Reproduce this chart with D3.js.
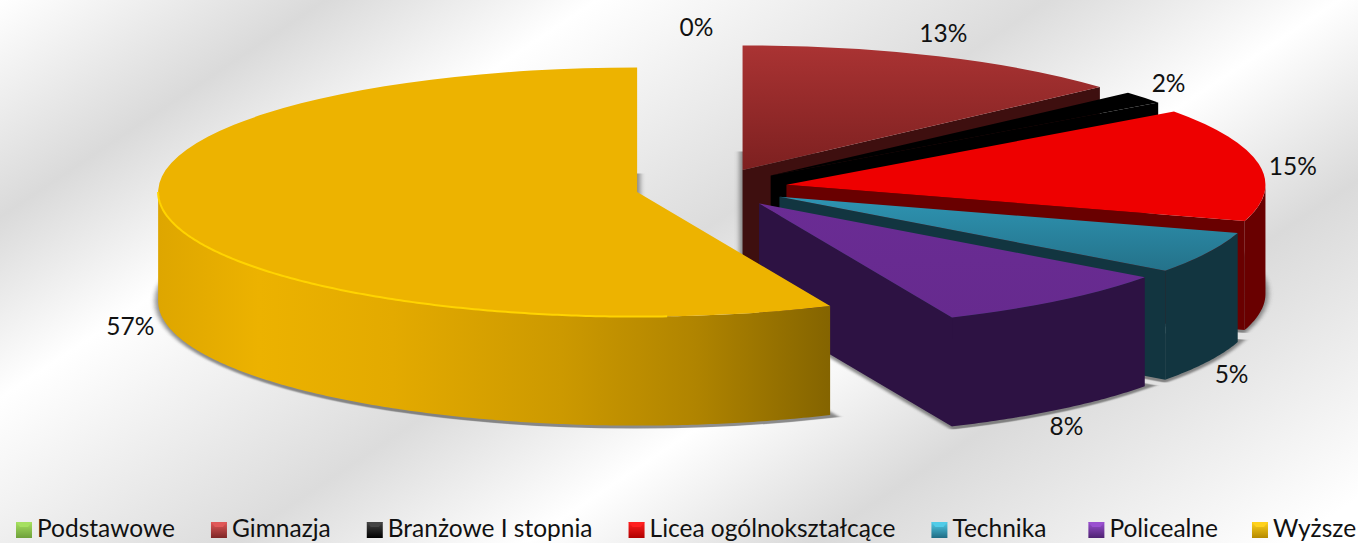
<!DOCTYPE html>
<html>
<head>
<meta charset="utf-8">
<script src="https://d3js.org/d3.v7.min.js"></script>
<style>
  html, body { margin: 0; padding: 0; background: #fff; overflow: hidden; }
  text { font-family: Lato, sans-serif; fill: #111; }
</style>
</head>
<body>
<script>
var categories = ["Podstawowe", "Gimnazja", "Branżowe I stopnia", "Licea ogólnokształcące", "Technika", "Policealne", "Wyższe"];
var shares = [0, 13.4, 1.6, 14.7, 5.4, 8.3, 56.6];
var labels = ["0%", "13%", "2%", "15%", "5%", "8%", "57%"];

var topColors = [["#92d050", "#92d050"], ["#aa3333", "#7d2020"], ["#000", "#000"], ["#ee0000", "#ee0000"], ["#2e94b2", "#24728a"], ["#6a2c94", "#662a8e"], ["#edb300", "#edb300"]];
var wallColors = ["#4a6a28", "#3e0f0f", "#000", "#690000", "#123540", "#2d1243", "#8a6800"];
var swatchColors = [["#a6e060", "#6ea03a"], ["#e05858", "#7d2525"], ["#444", "#000"], ["#ff2020", "#b00000"], ["#50cce8", "#1f6c84"], ["#9a50d0", "#4e2272"], ["#ffd21c", "#b58a00"]];
var labelNudge = [[-15, -16], [5, -22], [25, -13], [34, 3], [24, 13], [8, 17], [-38, 0]];
var legendGaps = [36, 36, 36, 36, 42, 34, 0];

var width = 1358, height = 543;
var cx = 711.5, cy = 188, rx = 479, tilt = 0.26, depth = 109, explode = 76;
var ry = rx * tilt;

var svg = d3.select("body").append("svg")
    .attr("width", width)
    .attr("height", height)
    .style("display", "block");
var defs = svg.append("defs");

// diagonal banded backdrop
var bg = defs.append("linearGradient").attr("id", "bg")
    .attr("gradientUnits", "userSpaceOnUse")
    .attr("x1", 0).attr("y1", 0).attr("x2", 668).attr("y2", 1002);
[[0, "#fff"], [.15, "#dadada"], [.275, "#fff"], [.483, "#dcdcdc"], [.617, "#fff"], [.75, "#dadada"], [.97, "#fff"], [1, "#fff"]].forEach(function(s) {
  bg.append("stop").attr("offset", s[0]).attr("stop-color", s[1]);
});
svg.append("rect").attr("width", width).attr("height", height).attr("fill", "url(#bg)");

defs.append("filter").attr("id", "blur")
    .attr("x", "-10%").attr("y", "-10%").attr("width", "120%").attr("height", "120%")
  .append("feGaussianBlur").attr("stdDeviation", 2.5);

categories.forEach(function(c, i) {
  var g = defs.append("linearGradient").attr("id", "top" + i).attr("x1", 0).attr("y1", 0).attr("x2", 0).attr("y2", 1);
  g.append("stop").attr("offset", 0).attr("stop-color", topColors[i][0]);
  g.append("stop").attr("offset", 1).attr("stop-color", topColors[i][1]);
  var s = defs.append("linearGradient").attr("id", "sw" + i).attr("x1", 0).attr("y1", 0).attr("x2", 0).attr("y2", 1);
  s.append("stop").attr("offset", 0).attr("stop-color", swatchColors[i][0]);
  s.append("stop").attr("offset", 1).attr("stop-color", swatchColors[i][1]);
});

var yellowWall = defs.append("linearGradient").attr("id", "wall6").attr("x1", 0).attr("y1", 0).attr("x2", 1).attr("y2", 0);
[[0, "#dea600"], [.15, "#ecb200"], [.35, "#e3aa00"], [.6, "#cc9900"], [.8, "#b08400"], [1, "#846400"]].forEach(function(s) {
  yellowWall.append("stop").attr("offset", s[0]).attr("stop-color", s[1]);
});

var pie = d3.pie().sort(null).value(function(d) { return d; });
var arcs = pie(shares);
var arc = d3.arc().innerRadius(0).outerRadius(rx);
var line = d3.line().x(function(d) { return d[0]; }).y(function(d) { return d[1]; });

function mid(d) { return (d.startAngle + d.endAngle) / 2; }
function apex(d) {
  return [cx + explode * Math.sin(mid(d)), cy - explode * tilt * Math.cos(mid(d))];
}
function rim(a) { return [rx * Math.sin(a), -ry * Math.cos(a)]; }

// outer wall, only the part turned to the viewer
function outerWall(d) {
  var a0 = Math.max(d.startAngle, Math.PI / 2), a1 = Math.min(d.endAngle, Math.PI * 1.5);
  if (a1 <= a0) return null;
  var steps = d3.range(a0, a1, 0.01).concat([a1]).map(rim);
  var lower = steps.map(function(p) { return [p[0], p[1] + depth]; }).reverse();
  return line(steps.concat(lower)) + "Z";
}

// radial wall along the closing edge of a slice
function edgeWall(d) {
  if (d.endAngle >= Math.PI) return null;
  var p = rim(d.endAngle);
  return line([[0, 0], p, [p[0], p[1] + depth], [0, depth]]) + "Z";
}

var visible = arcs.filter(function(d) { return d.value > 0; });

// soft shadow of the underside of each slice
svg.append("g").selectAll("path").data(visible).join("path")
    .attr("d", arc)
    .attr("transform", function(d) {
      var a = apex(d);
      return "translate(" + a[0] + "," + (a[1] + depth) + ") scale(1," + tilt + ")";
    })
    .attr("fill", "#444")
    .attr("stroke", "#444")
    .attr("stroke-width", 6)
    .attr("vector-effect", "non-scaling-stroke")
    .attr("opacity", 0.6)
    .attr("filter", "url(#blur)");

var slices = svg.append("g").selectAll("g").data(visible).join("g")
    .attr("transform", function(d) { return "translate(" + apex(d) + ")"; });

slices.append("path")
    .attr("d", edgeWall)
    .attr("fill", function(d) { return wallColors[d.index]; });

slices.append("path")
    .attr("d", outerWall)
    .attr("fill", function(d) { return d.index === 6 ? "url(#wall6)" : wallColors[d.index]; });

slices.append("path")
    .attr("d", arc)
    .attr("transform", "scale(1," + tilt + ")")
    .attr("fill", function(d) { return "url(#top" + d.index + ")"; });

// bright rim on the big slice
slices.filter(function(d) { return d.index === 6; }).append("path")
    .attr("d", function(d) {
      var a0 = Math.PI * 0.98, a1 = Math.PI * 1.5;
      return line(d3.range(a0, a1, 0.01).concat([a1]).map(rim));
    })
    .attr("fill", "none")
    .attr("stroke", "#ffd400")
    .attr("stroke-width", 2);

var fontSize = 25, stretch = 0.98;

svg.append("g").selectAll("text").data(arcs).join("text")
    .attr("text-anchor", "middle")
    .attr("font-size", fontSize)
    .attr("transform", function(d, i) {
      var m = mid(d);
      var x = cx + (rx + explode) * Math.sin(m) + labelNudge[i][0];
      var y = cy - (ry + explode * tilt) * Math.cos(m) + labelNudge[i][1];
      if (Math.cos(m) < 0) y += depth;
      return "translate(" + x + "," + (y + 8) + ") scale(" + stretch + ",1)";
    })
    .text(function(d, i) { return labels[i]; });

// legend, laid out left to right by measured text width
var legend = svg.append("g");
var legendX = 16, legendY = 537, box = 16;
categories.forEach(function(c, i) {
  var item = legend.append("g").attr("transform", "translate(" + legendX + "," + legendY + ")");
  item.append("rect")
      .attr("y", -box + 1).attr("width", box).attr("height", box)
      .attr("fill", "url(#sw" + i + ")");
  item.append("path")
      .attr("d", line([[0, -box + 1], [box, -box + 1], [box * 0.75, -box + 6], [box * 0.25, -box + 6]]) + "Z")
      .attr("fill", swatchColors[i][0]);
  var t = item.append("text")
      .attr("font-size", fontSize)
      .attr("transform", "translate(" + (box + 5) + ",0) scale(" + stretch + ",1)")
      .text(c);
  legendX += box + 5 + t.node().getComputedTextLength() * stretch + legendGaps[i];
});
</script>
</body>
</html>
